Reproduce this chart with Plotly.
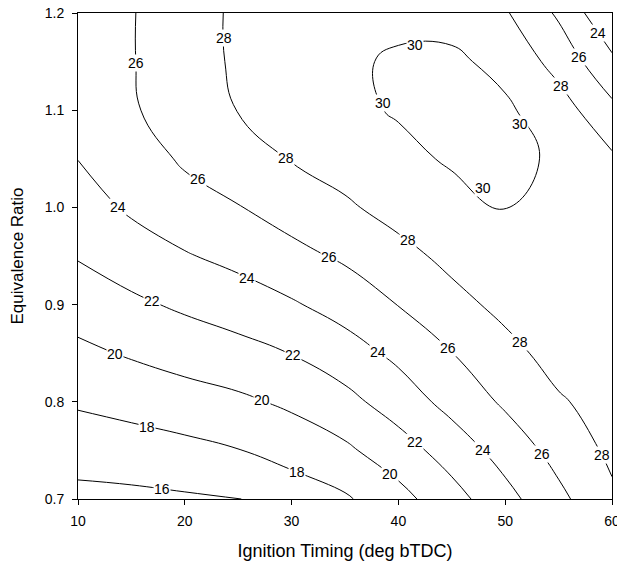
import numpy as np
import plotly.graph_objects as go

# Data
ignition_timing = [10, 15, 20, 25, 30, 35, 40, 45, 50, 55, 60]
equivalence_ratio = [0.70, 0.75, 0.80, 0.85, 0.90, 0.95, 1.00, 1.05, 1.10, 1.15, 1.20]

# estimated response values, one row per equivalence ratio
z_070 = [15.45, 15.55, 15.75, 15.95, 16.8, 17.75, 19.34, 21.24, 23.35, 25.52, 27.66]
z_075 = [16.85, 17.1, 17.46, 17.94, 18.8, 19.65, 21.1, 22.9, 24.8, 26.7, 28.4]
z_080 = [18.24, 18.68, 19.16, 19.64, 20.35, 21.4, 22.95, 24.64, 26.3, 27.8, 28.75]
z_085 = [19.57, 20.2, 20.8, 21.33, 22.05, 23.15, 24.45, 25.97, 27.42, 28.7, 29.05]
z_090 = [20.88, 21.63, 22.32, 23.0, 23.79, 24.78, 26.05, 27.4, 28.5, 29.15, 29.25]
z_095 = [22.13, 23.0, 23.85, 24.55, 25.45, 26.3, 27.4, 28.5, 29.35, 29.5, 29.35]
z_100 = [23.09, 24.3, 25.2, 25.92, 26.83, 27.72, 28.7, 29.4, 30.05, 29.75, 29.15]
z_105 = [24.03, 25.0, 26.27, 27.05, 28.1, 28.82, 29.55, 30.2, 30.45, 29.75, 28.3]
z_110 = [24.45, 25.8, 26.93, 28.05, 28.7, 29.6, 30.15, 30.6, 30.3, 28.9, 26.5]
z_115 = [24.7, 25.9, 27.1, 28.3, 29.0, 29.75, 30.2, 30.35, 29.45, 27.3, 24.4]
z_120 = [24.75, 25.9, 27.1, 28.35, 29.05, 29.45, 29.6, 29.3, 28.2, 25.7, 22.2]

z_grid = [z_070, z_075, z_080, z_085, z_090, z_095, z_100, z_105, z_110, z_115, z_120]

x_ticks = [10, 20, 30, 40, 50, 60]
y_ticks = [0.7, 0.8, 0.9, 1.0, 1.1, 1.2]
level_start, level_end, level_step = 16, 30, 2

# contour labels: level and approximate spot where the reference prints it
label_levels = [16, 18, 18, 20, 20, 20, 22, 22, 22,
                24, 24, 24, 24, 24,
                26, 26, 26, 26, 26, 26,
                28, 28, 28, 28, 28, 28,
                30, 30, 30, 30]
label_x_hint = [17.9, 16.5, 30.5, 13.5, 27.2, 39.2, 16.9, 30.1, 41.6,
                13.6, 25.8, 38.1, 47.9, 58.6,
                15.3, 21.2, 33.5, 44.6, 53.4, 57.1,
                23.7, 29.5, 40.9, 51.1, 58.9, 55.2,
                41.6, 38.1, 47.9, 52.0]
label_y_hint = [0.712, 0.775, 0.737, 0.848, 0.804, 0.728, 0.902, 0.846, 0.761,
                1.000, 0.927, 0.854, 0.750, 1.179,
                1.149, 1.024, 0.949, 0.856, 0.746, 1.155,
                1.174, 1.051, 0.965, 0.862, 0.745, 1.125,
                1.173, 1.107, 1.006, 1.086]

FONT = "Liberation Sans, Arial, sans-serif"

xs = np.array(ignition_timing, dtype=float)
ys = np.array(equivalence_ratio, dtype=float)
Z = np.array(z_grid, dtype=float)


def z_at(x, y):
    i = int(np.clip(np.searchsorted(xs, x) - 1, 0, len(xs) - 2))
    j = int(np.clip(np.searchsorted(ys, y) - 1, 0, len(ys) - 2))
    tx = (x - xs[i]) / (xs[i + 1] - xs[i])
    ty = (y - ys[j]) / (ys[j + 1] - ys[j])
    return ((1 - tx) * (1 - ty) * Z[j, i] + tx * (1 - ty) * Z[j, i + 1]
            + (1 - tx) * ty * Z[j + 1, i] + tx * ty * Z[j + 1, i + 1])


PX_X = 534 / 50.0   # px per x unit (approx.)
PX_Y = 486 / 0.5    # px per y unit (approx.)


def snap_to_contour(level, xh, yh):
    """Find the point of the interpolated contour closest to the hint."""
    best = None
    yy = np.linspace(ys[0], ys[-1], 801)
    zz = np.array([z_at(xh, v) - level for v in yy])
    for k in range(len(yy) - 1):
        if zz[k] == 0 or zz[k] * zz[k + 1] < 0:
            yc = yy[k] - zz[k] * (yy[k + 1] - yy[k]) / (zz[k + 1] - zz[k])
            d = abs(yc - yh) * PX_Y
            if best is None or d < best[0]:
                best = (d, xh, yc)
    xx = np.linspace(xs[0], xs[-1], 801)
    zz = np.array([z_at(u, yh) - level for u in xx])
    for k in range(len(xx) - 1):
        if zz[k] == 0 or zz[k] * zz[k + 1] < 0:
            xc = xx[k] - zz[k] * (xx[k + 1] - xx[k]) / (zz[k + 1] - zz[k])
            d = abs(xc - xh) * PX_X
            if best is None or d < best[0]:
                best = (d, xc, yh)
    if best is None:
        return xh, yh
    return best[1], best[2]


fig = go.Figure(
    go.Contour(
        x=ignition_timing,
        y=equivalence_ratio,
        z=z_grid,
        contours=dict(
            start=level_start,
            end=level_end,
            size=level_step,
            coloring="none",
            showlabels=False,
        ),
        line=dict(color="black", width=1, smoothing=1.3),
        showscale=False,
        hoverinfo="skip",
    )
)

annotations = []
for lev, xh, yh in zip(label_levels, label_x_hint, label_y_hint):
    lx, ly = snap_to_contour(lev, xh, yh)
    annotations.append(dict(
        x=lx, y=ly, xref="x", yref="y",
        text=str(lev), showarrow=False,
        font=dict(family=FONT, size=14, color="black"),
        bgcolor="white", borderpad=0,
        xanchor="center", yanchor="middle",
    ))

axis_common = dict(
    showgrid=False,
    zeroline=False,
    showline=True,
    linecolor="black",
    linewidth=1,
    mirror=True,
    ticks="outside",
    ticklen=5,
    tickcolor="black",
    tickwidth=1,
    automargin=False,
    ticklabeloverflow="allow",
    tickfont=dict(family=FONT, size=14, color="black"),
)

fig.update_layout(
    width=617,
    height=561,
    margin=dict(l=78, r=5, t=13, b=62),
    paper_bgcolor="white",
    plot_bgcolor="white",
    showlegend=False,
    annotations=annotations,
    xaxis=dict(
        range=[10, 60],
        tickvals=x_ticks,
        ticklabelstandoff=4,
        title=dict(text="Ignition Timing (deg bTDC)", font=dict(family=FONT, size=18, color="black"), standoff=16),
        **axis_common,
    ),
    yaxis=dict(
        range=[0.7, 1.2],
        tickvals=y_ticks,
        tickformat=".1f",
        ticklabelstandoff=5,
        title=dict(text="Equivalence Ratio", font=dict(family=FONT, size=17, color="black"), standoff=16),
        **axis_common,
    ),
)

fig.write_html("out.html")
